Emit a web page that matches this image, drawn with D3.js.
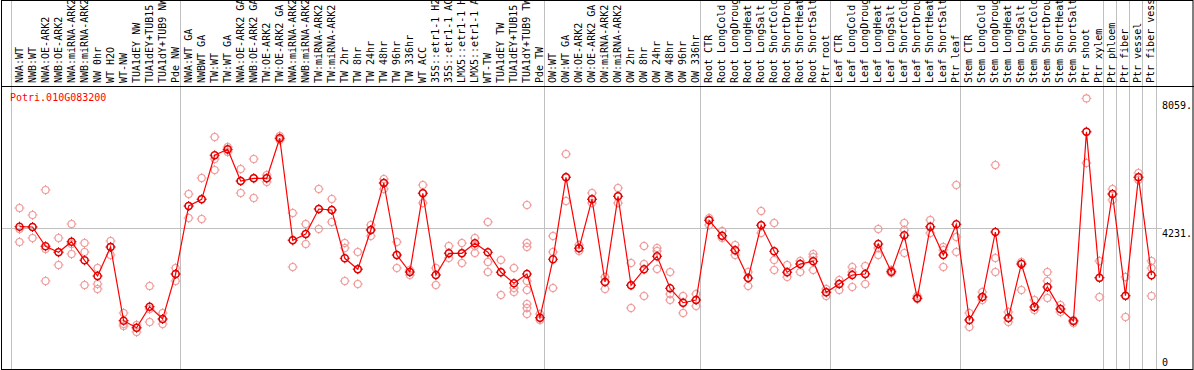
<!DOCTYPE html>
<html>
<head>
<meta charset="utf-8">
<script src="https://cdn.jsdelivr.net/npm/d3@7"></script>
<style>
  body { margin: 0; background: #fff; }
  svg { display: block; }
  text { font-family: "DejaVu Sans Mono", monospace; font-size: 10px; }
</style>
</head>
<body>
<script>
// sample names, in plotting order
var samples = [
  "NWA:WT", "NWB:WT", "NWA:OE-ARK2", "NWB:OE-ARK2", "NWA:miRNA-ARK2", "NWB:miRNA-ARK2",
  "NW 0hr", "WT H2O", "WT-NW", "TUA1dEY NW", "TUA1dEY+TUB15 NW", "TUA1dY+TUB9 NW", "Pde NW",
  "NWA:WT GA", "NWBWT GA", "TW:WT", "TW:WT GA", "NWA:OE-ARK2 GA", "NWB:OE-ARK2 GA",
  "TW:OE-ARK2", "TW:OE-ARK2 GA", "NWA:miRNA-ARK2", "NWB:miRNA-ARK2", "TW:miRNA-ARK2", "TW:miRNA-ARK2",
  "TW 2hr", "TW 8hr", "TW 24hr", "TW 48hr", "TW 96hr", "TW 336hr", "WT ACC",
  "35S::etr1-1 H2O", "35S::etr1-1 ACC", "LMX5::etr1-1 H2O", "LMX5::etr1-1 ACC", "WT-TW",
  "TUA1dEY TW", "TUA1dEY+TUB15 TW", "TUA1dY+TUB9 TW", "Pde TW",
  "OW:WT", "OW:WT GA", "OW:OE-ARK2", "OW:OE-ARK2 GA", "OW:miRNA-ARK2", "OW:miRNA-ARK2",
  "OW 2hr", "OW 8hr", "OW 24hr", "OW 48hr", "OW 96hr", "OW 336hr",
  "Root CTR", "Root LongCold", "Root LongDrought", "Root LongHeat", "Root LongSalt",
  "Root ShortCold", "Root ShortDrought", "Root ShortHeat", "Root ShortSalt", "Ptr root",
  "Leaf CTR", "Leaf LongCold", "Leaf LongDrought", "Leaf LongHeat", "Leaf LongSalt",
  "Leaf ShortCold", "Leaf ShortDrought", "Leaf ShortHeat", "Leaf ShortSalt", "Ptr leaf",
  "Stem CTR", "Stem LongCold", "Stem LongDrought", "Stem LongHeat", "Stem LongSalt",
  "Stem ShortCold", "Stem ShortDrought", "Stem ShortHeat", "Stem ShortSalt", "Ptr shoot", "Ptr xylem",
  "Ptr phloem", "Ptr fiber", "Ptr vessel", "Ptr fiber vessel"
];

// number of samples in each block between grey separators
var groupSizes = [13, 28, 12, 10, 10, 11, 1, 1, 1, 1];

// mean expression per sample
var means = [
  4270, 4261, 3682, 3502, 3820, 3262, 2791, 3661, 1449, 1239, 1869, 1500, 2851,
  4891, 5092, 6413, 6593, 5641, 5722, 5722, 6923, 3862, 4051, 4801, 4771,
  3322, 2992, 4171, 5581, 3421, 2911, 5272, 2821, 3472, 3472, 3772, 3502, 2902, 2572, 2851, 1539,
  3292, 5752, 3622, 5092, 2611, 5182, 2512, 2992, 3382, 2422, 1989, 2071,
  4462, 4000, 3562, 2731, 4312, 3532, 2902, 3151, 3232, 2302,
  2551, 2821, 2851, 3751, 2920, 4012, 2122, 4270, 3421, 4342,
  1470, 2160, 4111, 1530, 3151, 1860, 2461, 1800, 1440, 7121, 2740,
  5251, 2200, 5752, 2812
];

// individual replicates per sample
var replicates = [
  [4831, 4201, 3811], [4621, 4261, 3931], [5373, 3601, 2641], [3931, 3511, 3121],
  [4351, 3751, 3451], [3781, 3511, 2521], [3031, 2551, 2401], [3841, 3661, 3421],
  [1680, 1350, 1290], [1320, 1230, 1110], [2491, 1800, 1410], [1680, 1500, 1350],
  [3031, 2851, 2641],
  [5251, 4891, 4531], [5731, 5101, 4501], [6962, 6301, 5971], [6662, 6572, 6512],
  [6001, 5641, 5281], [6301, 5731, 5131], [5821, 5731, 5611], [6992, 6932, 6872],
  [4681, 3871, 3061], [4351, 4051, 3751], [5401, 4801, 4201], [5101, 4771, 4411],
  [3781, 3631, 2641], [3511, 3001, 2551], [4321, 4171, 3991], [5701, 5581, 5401],
  [3811, 3421, 3031], [2971, 2911, 2821], [5521, 5281, 4981], [3031, 2821, 2521],
  [3691, 3481, 3331], [3781, 3481, 3181], [3931, 3691, 3481], [4411, 3211, 2911],
  [3271, 2911, 2221], [3031, 2431, 2311],
  [4921, 3781, 3661, 2641, 2371, 1950, 1830, 1650], [1650, 1530, 1470],
  [3991, 3511, 2431], [6452, 5761, 5041], [3721, 3631, 3541], [5281, 5101, 4981],
  [2761, 2611, 2401], [5431, 5191, 4981], [3181, 2521, 1830], [3691, 3151, 2191],
  [3631, 3541, 3001], [2911, 2251, 2071], [2191, 1980, 1680], [2251, 2071, 1890],
  [4531, 4471, 4321], [4141, 3991, 3931], [3721, 3571, 3421], [2911, 2731, 2491],
  [4741, 4321, 4081], [4381, 3271, 2971], [3121, 2911, 2761], [3241, 3151, 2911],
  [3451, 3361, 2971], [2401, 2311, 2191],
  [2671, 2551, 2371], [3061, 2911, 2461], [3091, 2851, 2551], [4201, 3631, 3421],
  [2971, 2911, 2881], [4381, 4171, 3481], [2191, 2131, 2101], [4471, 4261, 4081],
  [3661, 3571, 3061], [5521, 3961, 3511],
  [1680, 1470, 1260], [2311, 2161, 2071], [6122, 3331, 2911], [1710, 1530, 1410],
  [3211, 3151, 2371], [2071, 1860, 1770], [2911, 2641, 2131], [1920, 1800, 1710],
  [1470, 1440, 1380], [8120, 7111, 6182], [3241, 2731, 2161],
  [5401, 5251, 5071], [2761, 2191, 1560], [5881, 5761, 5671], [3241, 3031, 2191]
];

var yTicks = [0, 4231, 8059];
var yMax = 8462;
var geneName = "Potri.010G083200";

var width = 1194, height = 370;
var plotLeft = 10.5, plotRight = 1155.5;
var labelBottom = 86, plotBottom = 369;

var svg = d3.select("body").append("svg")
  .attr("width", width)
  .attr("height", height);

var x = d3.scaleBand()
  .domain(d3.range(samples.length))
  .range([plotLeft, plotRight]);

var y = d3.scaleLinear()
  .domain([0, yMax])
  .range([plotBottom, labelBottom + 1]);

function cx(i) { return x(i) + 9; }

// separators between sample groups
var bounds = [0];
groupSizes.forEach(function(n) { bounds.push(bounds[bounds.length - 1] + n); });

svg.selectAll("line.sep")
  .data(bounds)
  .enter()
  .append("line")
  .attr("class", "sep")
  .attr("x1", function(b) { return Math.round(plotLeft + b * x.step()) + 0.5; })
  .attr("x2", function(b) { return Math.round(plotLeft + b * x.step()) + 0.5; })
  .attr("y1", 0)
  .attr("y2", plotBottom)
  .attr("stroke", "#c0c0c0")
  .attr("stroke-width", 1);

// horizontal grid at mid value
svg.append("line")
  .attr("x1", 1).attr("x2", 1162)
  .attr("y1", Math.round(y(yTicks[1])) + 0.5)
  .attr("y2", Math.round(y(yTicks[1])) + 0.5)
  .attr("stroke", "#c0c0c0");

// frame
svg.append("rect")
  .attr("x", 1.5).attr("y", 0.5)
  .attr("width", width - 2.5).attr("height", plotBottom)
  .attr("fill", "none").attr("stroke", "#000");
svg.append("line")
  .attr("x1", 1).attr("x2", width)
  .attr("y1", labelBottom + 0.5).attr("y2", labelBottom + 0.5)
  .attr("stroke", "#000");

// sample labels, rotated
svg.append("g")
  .selectAll("text")
  .data(samples)
  .enter()
  .append("text")
  .attr("transform", function(d, i) {
    return "translate(" + (cx(i) + 3) + "," + (labelBottom - 3) + ") rotate(-90)";
  })
  .attr("fill", "#000")
  .text(function(d) { return d; });

// gene title
svg.append("text")
  .attr("x", 10).attr("y", 101)
  .attr("fill", "#ff0000")
  .text(geneName);

// y labels at the right
svg.selectAll("text.ylab")
  .data(yTicks)
  .enter()
  .append("text")
  .attr("class", "ylab")
  .attr("x", 1162)
  .attr("y", function(v) { return v === 0 ? plotBottom - 3 : y(v) + 9; })
  .attr("fill", "#000")
  .text(function(v) { return v === 0 ? "0" : v + "."; });

// marker: circle with small ticks
function marker(g, color, sw) {
  g.append("circle")
    .attr("r", 3.5)
    .attr("fill", "none")
    .attr("stroke", color)
    .attr("stroke-width", sw);
  g.append("path")
    .attr("d", "M0,-5V-3.5M0,3.5V5M-5,0H-3.5M3.5,0H5")
    .attr("stroke", color)
    .attr("stroke-width", 1);
}

// replicate points
var reps = [];
replicates.forEach(function(r, i) {
  r.forEach(function(v) { reps.push({ i: i, v: v }); });
});

svg.append("g")
  .selectAll("g")
  .data(reps)
  .enter()
  .append("g")
  .attr("transform", function(d) { return "translate(" + cx(d.i) + "," + y(d.v) + ")"; })
  .each(function() { marker(d3.select(this), "#f09898", 1.1); });

// mean line
var line = d3.line()
  .x(function(d, i) { return cx(i); })
  .y(function(d) { return y(d); });

svg.append("path")
  .datum(means)
  .attr("d", line)
  .attr("fill", "none")
  .attr("stroke", "#ff0000")
  .attr("stroke-width", 1.2);

svg.append("g")
  .selectAll("g")
  .data(means)
  .enter()
  .append("g")
  .attr("transform", function(d, i) { return "translate(" + cx(i) + "," + y(d) + ")"; })
  .each(function() { marker(d3.select(this), "#e00000", 1.5); });
</script>
</body>
</html>
